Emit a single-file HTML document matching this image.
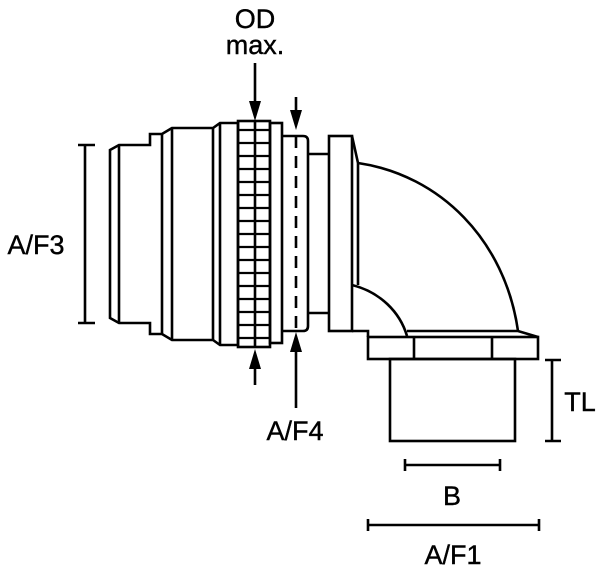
<!DOCTYPE html>
<html><head><style>body{margin:0;background:#fff}svg{display:block}</style></head><body>
<svg width="600" height="575" viewBox="0 0 600 575" xmlns="http://www.w3.org/2000/svg">
<g fill="none" stroke="#000" stroke-width="2.6" stroke-linejoin="miter">
<path d="M85,145 V323 M78,145 H95 M78,323 H95"/>
<path d="M110,150 L119,145 H150 V134 H162 L172,128 H213 L220,123 H238 V345 H220 L213,340 H172 L162,334 H150 V323 H119 L110,318 Z"/>
<path d="M119,145 V323 M162,134 V334 M172,128 V340 M213,128 V340 M220,123 V345"/>
<rect x="238" y="121" width="32" height="226"/>
<rect x="270" y="123" width="12" height="220"/>
<path stroke-width="2.2" d="M238,130H270M238,143H270M238,156H270M238,169H270M238,182H270M238,195H270M238,208H270M238,221H270M238,234H270M238,247H270M238,260H270M238,273H270M238,286H270M238,299H270M238,312H270M238,325H270M238,338H270"/>
<path d="M255,121 V347"/>
<path d="M282,136 H303 Q308,136 308,141 V326 Q308,331 303,331 H282"/>
<path d="M296,136 V331" stroke-dasharray="12,8"/>
<path d="M308,154 H329 M308,313 H329"/>
<rect x="329" y="136" width="23" height="195"/>
<path d="M352,136 L358,163 V285"/>
<path d="M358,163 C440,175 505,240 518,331"/>
<path d="M352,285 C380,292 400,312 407,336"/>
<path d="M352,331 H368 V337 M407,331 H518 L538,337"/>
<rect x="368" y="337" width="170" height="22"/>
<path d="M414,337 V359 M492,337 V359"/>
<rect x="390" y="359" width="125" height="82"/>
<path d="M552,360 V441 M545,360 H561 M545,441 H561"/>
<path d="M405,465 H500 M405,459 V471 M500,459 V471"/>
<path d="M368,525 H539 M368,519 V531 M539,519 V531"/>
<path d="M255,63 V105 M296,97 V114 M255,385 V365 M296,408 V348"/>
</g>
<g fill="#000">
<polygon points="249,101 261,101 255,121"/>
<polygon points="290,110 302,110 296,130"/>
<polygon points="249,369 261,369 255,349"/>
<polygon points="290,352 302,352 296,332"/>
</g>
<g font-family="Liberation Sans, sans-serif" font-size="27" fill="#000" stroke="#000" stroke-width="0.4" text-anchor="middle">
<text x="255" y="28">OD</text>
<text x="255" y="54">max.</text>
<text x="36" y="254">A/F3</text>
<text x="295" y="440">A/F4</text>
<text x="580" y="411">TL</text>
<text x="452" y="505">B</text>
<text x="453" y="564">A/F1</text>
</g>
</svg>
</body></html>
